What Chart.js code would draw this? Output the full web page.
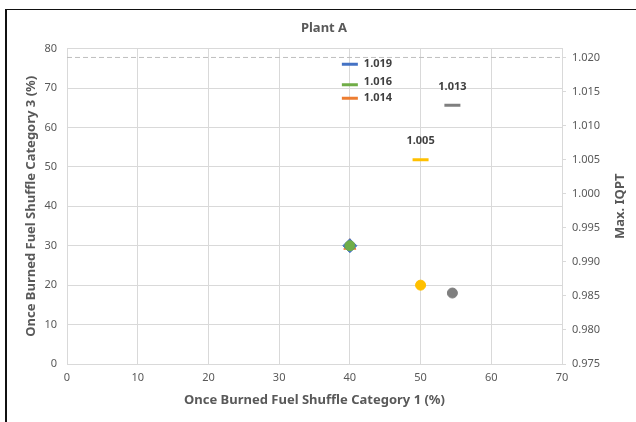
<!DOCTYPE html>
<html>
<head>
<meta charset="utf-8">
<script src="https://cdn.jsdelivr.net/npm/chart.js@4.4.1/dist/chart.umd.min.js"></script>
<style>
  html, body { margin: 0; padding: 0; background: #fff; }
  #wrap { position: relative; width: 636px; height: 422px; }
  #frame { position: absolute; left: 5px; top: 9px; right: 0; bottom: 0;
           border-left: 2px solid #111; border-top: 1px solid #111; pointer-events: none; }
</style>
</head>
<body>
<div id="wrap">
  <canvas id="myChart" width="636" height="422"></canvas>
  <div id="frame"></div>
</div>
<script>
// datos de la grafica (orden de dibujo: el ultimo queda encima)
const cases = ['Case 2', 'Case 1', 'Case 3', 'Case 5', 'Case 4'];
const cat1 = [40, 40, 40, 50, 54.5];          // eje x (%)
const cat3 = [30, 30, 30, 20, 18];            // eje y izquierdo (%)
const maxIqpt = [1.014, 1.019, 1.016, 1.005, 1.013]; // eje y derecho
const iqptLimit = 1.020;
const xTicks = [0, 10, 20, 30, 40, 50, 60, 70];
const leftTicks = [0, 10, 20, 30, 40, 50, 60, 70, 80];
const rightTicks = [0.975, 0.980, 0.985, 0.990, 0.995, 1.000, 1.005, 1.010, 1.015, 1.020];

const colors = ['#ED7D31', '#4472C4', '#70AD47', '#FFC000', '#7F7F7F'];
const markers = ['triangle', 'rectRot', 'circle', 'circle', 'circle'];
const labelOffsets = [[14, 0], [14, 0], [14, -3], [0, -19], [0, -18]];

const gridColor = '#D9D9D9';
const textColor = '#595959';
const font = 'Noto Sans';

// etiquetas de los valores IQPT + titulo del eje derecho (leido de abajo a arriba)
const iqptLabels = {
  id: 'iqptLabels',
  afterDatasetsDraw(chart) {
    const meta = chart.getDatasetMeta(1);
    const c = chart.ctx;
    c.save();
    c.font = 'bold 11px "' + font + '"';
    c.fillStyle = '#404040';
    c.textBaseline = 'middle';
    meta.data.forEach((pt, i) => {
      const [dx, dy] = labelOffsets[i];
      c.textAlign = dx > 0 ? 'left' : 'center';
      c.fillText(maxIqpt[i].toFixed(3), pt.x + dx, pt.y + dy);
    });
    const area = chart.chartArea;
    c.translate(620, (area.top + area.bottom) / 2);
    c.rotate(-Math.PI / 2);
    c.textAlign = 'center';
    c.fillStyle = textColor;
    c.font = 'bold 13px "' + font + '"';
    c.fillText('Max. IQPT', 0, 0);
    c.restore();
  }
};

const ctx = document.getElementById('myChart');

new Chart(ctx, {
  type: 'scatter',
  data: {
    labels: cases,
    datasets: [{
      label: 'Category 3',
      data: cat1.map((x, i) => ({ x: x, y: cat3[i] })),
      yAxisID: 'y',
      pointStyle: markers,
      pointRadius: [7, 7, 5, 5, 5],
      pointBackgroundColor: colors,
      pointBorderColor: colors,
      pointBorderWidth: 1,
      order: 2
    }, {
      label: 'Max. IQPT',
      data: cat1.map((x, i) => ({ x: x, y: maxIqpt[i] })),
      yAxisID: 'y2',
      pointStyle: 'line',
      pointRadius: 8,
      pointBorderWidth: 3,
      pointBorderColor: colors,
      pointBackgroundColor: colors,
      order: 1
    }, {
      label: 'Limit',
      type: 'line',
      data: [{ x: xTicks[0], y: iqptLimit }, { x: xTicks[xTicks.length - 1], y: iqptLimit }],
      yAxisID: 'y2',
      borderColor: '#BFBFBF',
      borderWidth: 1,
      borderDash: [5, 3],
      pointRadius: 0,
      order: 3
    }]
  },
  options: {
    responsive: false,
    animation: false,
    layout: { padding: { left: 20, right: 8, top: 10, bottom: 10 } },
    plugins: {
      legend: { display: false },
      tooltip: { enabled: false },
      title: {
        display: true,
        text: 'Plant A',
        color: textColor,
        font: { family: font, size: 13, weight: 'bold' },
        padding: { top: 10, bottom: 13 }
      }
    },
    scales: {
      x: {
        type: 'linear',
        min: 0, max: 70,
        afterBuildTicks: s => { s.ticks = xTicks.map(v => ({ value: v })); },
        afterFit: s => { s.height = 48; },
        grid: { color: gridColor, drawTicks: false },
        border: { color: gridColor },
        ticks: { color: textColor, font: { family: font, size: 11 }, padding: 7 },
        title: {
          display: true,
          text: 'Once Burned Fuel Shuffle Category 1 (%)',
          color: textColor,
          font: { family: font, size: 13, weight: 'bold' },
          padding: { top: 0, bottom: 4 }
        }
      },
      y: {
        position: 'left',
        min: 0, max: 80,
        afterBuildTicks: s => { s.ticks = leftTicks.map(v => ({ value: v })); },
        afterFit: s => { s.width = 47; },
        grid: { color: gridColor, drawTicks: false },
        border: { color: gridColor },
        ticks: { color: textColor, font: { family: font, size: 11 }, padding: 10 },
        title: {
          display: true,
          text: 'Once Burned Fuel Shuffle Category 3 (%)',
          color: textColor,
          font: { family: font, size: 13, weight: 'bold' },
          padding: { top: 3, bottom: 0 }
        }
      },
      y2: {
        position: 'right',
        min: 0.975, max: 1.0213,
        afterBuildTicks: s => { s.ticks = rightTicks.map(v => ({ value: v })); },
        afterFit: s => { s.width = 66; },
        grid: { drawOnChartArea: false, color: gridColor, tickLength: 4 },
        border: { color: gridColor },
        ticks: {
          color: textColor, font: { family: font, size: 11 }, padding: 6,
          autoSkip: false,
          callback: v => Number(v).toFixed(3)
        }
      }
    }
  },
  plugins: [iqptLabels]
});
</script>
</body>
</html>
